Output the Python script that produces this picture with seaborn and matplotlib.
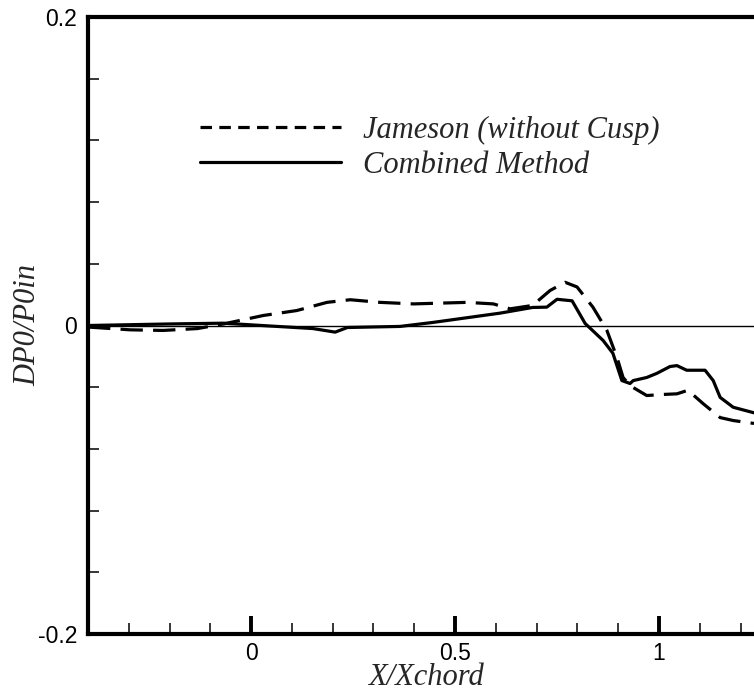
import seaborn as sns
import matplotlib.pyplot as plt
import pandas as pd
import numpy as np
from matplotlib.ticker import MultipleLocator, FixedLocator

# Данные
x_jameson = [-0.4, -0.297, -0.216, -0.132, -0.068, 0.03, 0.112, 0.186, 0.243, 0.316,
             0.398, 0.529, 0.594, 0.635, 0.69, 0.733, 0.77, 0.799, 0.838, 0.872,
             0.897, 0.912, 0.929, 0.97, 1.01, 1.044, 1.071, 1.108, 1.15, 1.182, 1.233]
y_jameson = [-0.001, -0.0028, -0.0032, -0.002, 0.001, 0.0065, 0.0097, 0.015, 0.0167, 0.015,
             0.014, 0.015, 0.014, 0.0108, 0.013, 0.0227, 0.028, 0.025, 0.0119, -0.003,
             -0.0207, -0.0337, -0.039, -0.0454, -0.0447, -0.0443, -0.042, -0.0506, -0.0597, -0.0616, -0.0635]

x_combined = [-0.4, -0.2, -0.068, 0.152, 0.206, 0.236, 0.365, 0.446, 0.61, 0.69,
              0.725, 0.75, 0.787, 0.819, 0.863, 0.887, 0.909, 0.929, 0.937, 0.97,
              0.995, 1.027, 1.044, 1.068, 1.113, 1.133, 1.15, 1.182, 1.233]
y_combined = [0.0, 0.001, 0.0015, -0.002, -0.0043, -0.0013, -0.0006, 0.002, 0.008, 0.0117,
              0.0119, 0.017, 0.016, 0.0013, -0.0097, -0.018, -0.0357, -0.0376, -0.0357, -0.0337,
              -0.031, -0.0266, -0.026, -0.029, -0.029, -0.0357, -0.0466, -0.053, -0.0566]

x_ticks = [0, 0.5, 1]
x_tick_labels = ['0', '0.5', '1']
y_ticks = [-0.2, 0, 0.2]
y_tick_labels = ['-0.2', '0', '0.2']

df = pd.concat([
    pd.DataFrame({'x': x_jameson, 'y': y_jameson, 'method': 'Jameson (without Cusp)'}),
    pd.DataFrame({'x': x_combined, 'y': y_combined, 'method': 'Combined Method'}),
])

sns.set_style("ticks")
plt.rcParams['font.family'] = ['Liberation Sans', 'DejaVu Sans']

fig = plt.figure(figsize=(7.54, 6.96), dpi=100)
ax = fig.add_axes([88 / 754, 62 / 696, 666 / 754, 617 / 696])

ax.axhline(0, color='black', lw=1.0, zorder=1)

sns.lineplot(data=df, x='x', y='y', hue='method', style='method',
             palette=['black', 'black'],
             dashes={'Jameson (without Cusp)': (7, 3.2), 'Combined Method': ''},
             lw=2.3, sort=False, estimator=None, ax=ax)

ax.set_xlim(-0.4, 1.233)
ax.set_ylim(-0.2, 0.2)

ax.xaxis.set_major_locator(FixedLocator(x_ticks))
ax.xaxis.set_minor_locator(MultipleLocator(0.1))
ax.yaxis.set_major_locator(FixedLocator(y_ticks))
ax.yaxis.set_minor_locator(MultipleLocator(0.04))
ax.set_xticklabels(x_tick_labels)
ax.set_yticklabels(y_tick_labels)

ax.tick_params(which='major', direction='in', length=13, width=2.8, labelsize=16.5,
               color='black', labelcolor='black')
ax.tick_params(which='minor', direction='in', length=8, width=1.1, color='black')
ax.tick_params(axis='x', which='major', pad=6)
ax.tick_params(axis='y', which='major', pad=8)

# Рамка: слева, снизу и сверху толстая, справа обрезана
for s in ['left', 'bottom', 'top']:
    ax.spines[s].set_linewidth(3)
    ax.spines[s].set_color('black')
ax.spines['right'].set_visible(False)

ax.set_xlabel('X/Xchord', family='Liberation Serif', style='italic', fontsize=22, va='center')
ax.set_ylabel('DP0/P0in', family='Liberation Serif', style='italic', fontsize=22, va='center')
ax.xaxis.set_label_coords(0.508, -0.0713)
ax.yaxis.set_label_coords(-0.091, 0.5)

leg = ax.legend(loc='upper left', bbox_to_anchor=(200 / 754, 1 - 116 / 696),
                bbox_transform=fig.transFigure, frameon=False, borderpad=0, borderaxespad=0,
                handlelength=4.6, handletextpad=0.75, labelspacing=0.18,
                prop={'family': 'Liberation Serif', 'style': 'italic', 'size': 22})
leg.get_lines()[0].set_dashes([3.6, 2.3])

fig.savefig('out.png', dpi=100)
